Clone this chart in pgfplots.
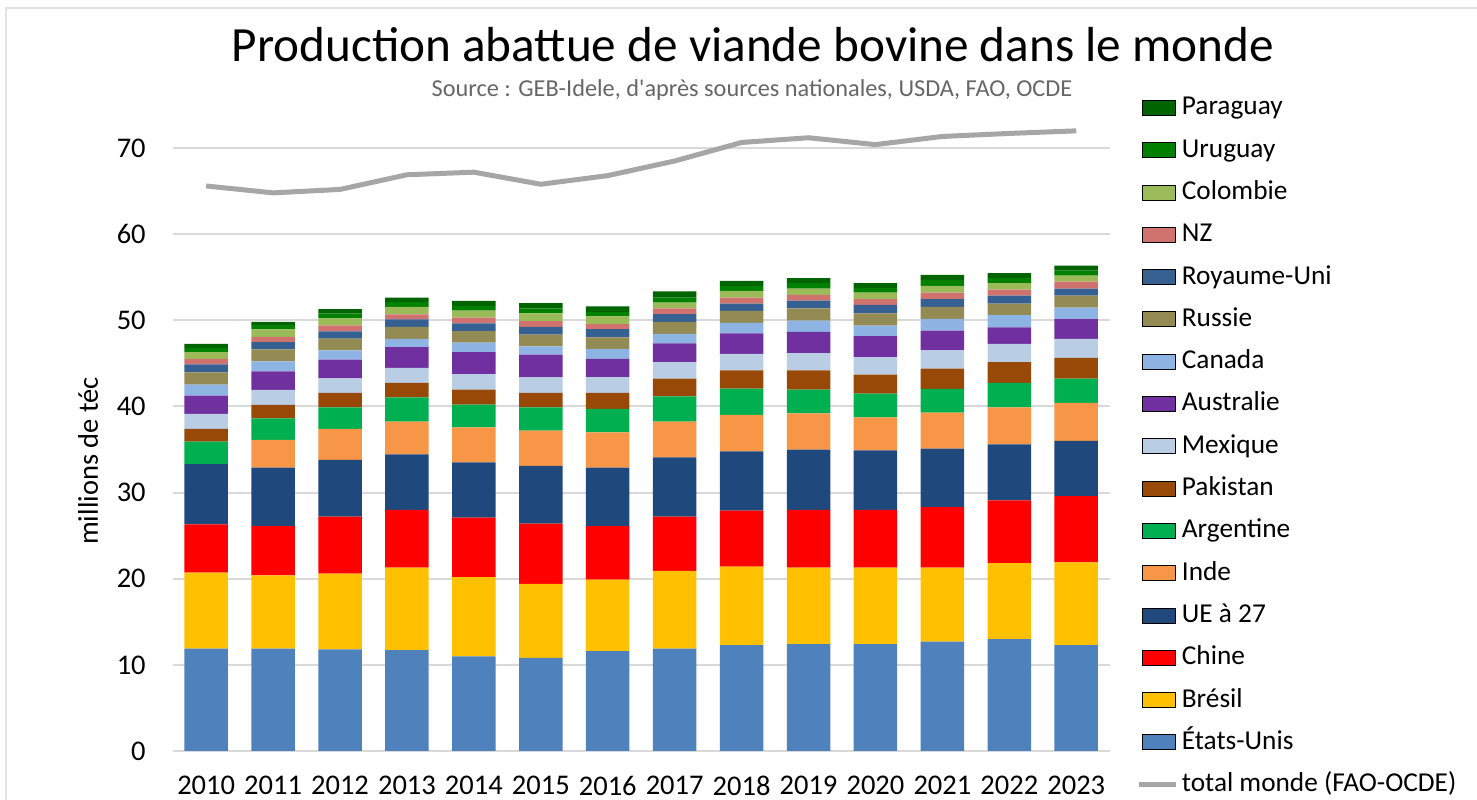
\documentclass[border=0pt]{standalone}
\usepackage{pgfplots}
\usepackage{pgfplotstable}
\usepackage{fontspec}
\setmainfont{Carlito}
\newfontfamily\plainfont{Carlito}[Ligatures=ResetAll]
\pgfplotsset{compat=1.18}
\definecolor{cUS}{HTML}{4F81BD}
\definecolor{cBR}{HTML}{FFC000}
\definecolor{cCH}{HTML}{FF0000}
\definecolor{cUE}{HTML}{1F497D}
\definecolor{cIN}{HTML}{F79646}
\definecolor{cAR}{HTML}{00B050}
\definecolor{cPK}{HTML}{984807}
\definecolor{cMX}{HTML}{B9CDE5}
\definecolor{cAU}{HTML}{7030A0}
\definecolor{cCA}{HTML}{8EB4E3}
\definecolor{cRU}{HTML}{948A54}
\definecolor{cUK}{HTML}{376092}
\definecolor{cNZ}{HTML}{D0736F}
\definecolor{cCO}{HTML}{9BBB59}
\definecolor{cUY}{HTML}{008000}
\definecolor{cPY}{HTML}{006400}
\definecolor{cLine}{HTML}{A6A6A6}
\definecolor{cGrid}{HTML}{D9D9D9}

\pgfplotstableread{
x  US   BR  CH  UE   IN   AR   PK   MX   AU   CA   RU   UK   NZ   CO   UY   PY
0  11.9 8.8 5.6 7.0  0.00 2.63 1.47 1.74 2.12 1.27 1.43 0.92 0.66 0.78 0.48 0.48
1  11.9 8.5 5.7 6.8  3.22 2.51 1.55 1.74 2.15 1.16 1.39 0.86 0.61 0.85 0.51 0.38
2  11.8 8.8 6.6 6.6  3.60 2.50 1.67 1.69 2.17 1.08 1.37 0.85 0.68 0.81 0.58 0.50
3  11.7 9.6 6.7 6.45 3.79 2.82 1.67 1.74 2.43 0.96 1.39 0.85 0.58 0.89 0.54 0.54
4  11.0 9.2 6.9 6.4  4.08 2.63 1.74 1.82 2.55 1.08 1.35 0.89 0.69 0.81 0.55 0.58
5  10.8 8.6 7.0 6.7  4.10 2.70 1.67 1.81 2.63 0.96 1.36 0.92 0.66 0.89 0.58 0.62
6  11.6 8.3 6.2 6.8  4.10 2.71 1.86 1.85 2.12 1.16 1.32 0.96 0.58 0.89 0.50 0.66
7  11.9 9.0 6.3 6.9  4.14 2.94 2.05 1.93 2.16 1.12 1.39 0.89 0.66 0.69 0.58 0.70
8  12.3 9.1 6.5 6.9  4.22 3.05 2.12 1.93 2.36 1.24 1.39 0.84 0.70 0.77 0.58 0.58
9  12.4 8.9 6.7 7.0  4.21 2.74 2.24 2.01 2.47 1.31 1.40 0.92 0.66 0.73 0.63 0.57
10 12.4 8.9 6.7 6.9  3.84 2.75 2.20 2.05 2.43 1.23 1.40 1.00 0.66 0.77 0.51 0.58
11 12.7 8.6 7.0 6.8  4.19 2.74 2.35 2.13 2.31 1.36 1.39 0.89 0.77 0.77 0.70 0.58
12 13.0 8.8 7.3 6.5  4.30 2.83 2.43 2.12 1.89 1.44 1.34 0.93 0.69 0.75 0.57 0.58
13 12.3 9.6 7.7 6.4  4.41 2.82 2.40 2.23 2.28 1.35 1.39 0.81 0.81 0.70 0.58 0.58
}\data

\pgfplotstableread{
x  T
0  65.6
1  64.8
2  65.2
3  66.9
4  67.2
5  65.8
6  66.8
7  68.5
8  70.65
9  71.2
10 70.4
11 71.35
12 71.7
13 72.0
}\total

\pgfplotsset{
  boxleg/.style={legend image code/.code={\fill[##1] (0bp,-3.75bp) rectangle (16.5bp,3.75bp);}},
  lineleg/.style={legend image code/.code={\draw[##1] (-1.5bp,0bp) -- (17bp,0bp);}},
  common/.style={at={(86.35bp,24.5bp)}, anchor=south west, width=468.5bp, height=327.3bp,
    scale only axis, xmin=-0.5, xmax=13.5, ymin=0, ymax=76},
}

\begin{document}
\begin{tikzpicture}
\path[use as bounding box] (0,0) rectangle (738.5bp,400bp);
\draw[gray!22, line width=0.8bp] (3bp,0bp) -- (3bp,396bp) -- (738.5bp,396bp);
\node[anchor=base, font=\fontsize{24.7}{29}\selectfont, inner sep=0pt] at (376.5bp,369bp) {Production abattue de viande bovine dans le monde};
\node[anchor=base, font=\plainfont\fontsize{12.2}{14}\selectfont, text=black!60, inner sep=0pt] at (376bp,351.5bp) {Source : GEB-Idele, d'après sources nationales, USDA, FAO, OCDE};
\node[rotate=90, font=\fontsize{14.3}{17}\selectfont, inner sep=0pt] at (44bp,169.5bp) {millions de téc};

\begin{axis}[common,
  ybar stacked, bar width=0.65,
  axis line style={draw=none}, tick style={draw=none},
  ymajorgrids, major grid style={cGrid, line width=1bp},
  ytick={0,10,...,70},
  xtick={0,...,13},
  xticklabels={2010,2011,2012,2013,2014,2015,2016,2017,2018,2019,2020,2021,2022,2023},
  /pgf/number format/assume math mode=true,
  yticklabel style={font=\fontsize{14.3}{16}\selectfont, xshift=-10bp},
  xticklabel style={font=\fontsize{14.3}{16}\selectfont, yshift=-9.2bp},
  legend cell align=left,
  legend style={at={(1.0286,1.003)}, anchor=north west, draw=none, fill=none,
    inner sep=0pt, font=\fontsize{13.7}{16}\selectfont, row sep=8.15bp,
    nodes={inner xsep=1.5bp, inner ysep=0pt, text height=10bp, text depth=3bp}},
]
\addlegendimage{boxleg, fill=cPY}\addlegendentry{Paraguay}
\addlegendimage{boxleg, fill=cUY}\addlegendentry{Uruguay}
\addlegendimage{boxleg, fill=cCO}\addlegendentry{Colombie}
\addlegendimage{boxleg, fill=cNZ}\addlegendentry{NZ}
\addlegendimage{boxleg, fill=cUK}\addlegendentry{Royaume-Uni}
\addlegendimage{boxleg, fill=cRU}\addlegendentry{Russie}
\addlegendimage{boxleg, fill=cCA}\addlegendentry{Canada}
\addlegendimage{boxleg, fill=cAU}\addlegendentry{Australie}
\addlegendimage{boxleg, fill=cMX}\addlegendentry{Mexique}
\addlegendimage{boxleg, fill=cPK}\addlegendentry{Pakistan}
\addlegendimage{boxleg, fill=cAR}\addlegendentry{Argentine}
\addlegendimage{boxleg, fill=cIN}\addlegendentry{Inde}
\addlegendimage{boxleg, fill=cUE}\addlegendentry{UE à 27}
\addlegendimage{boxleg, fill=cCH}\addlegendentry{Chine}
\addlegendimage{boxleg, fill=cBR}\addlegendentry{Brésil}
\addlegendimage{boxleg, fill=cUS}\addlegendentry{États-Unis}
\addlegendimage{lineleg, cLine, line width=2.5bp}\addlegendentry{total monde (FAO-OCDE)}

\addplot[forget plot, fill=cUS, draw=none] table[x=x,y=US]{\data};
\addplot[forget plot, fill=cBR, draw=none] table[x=x,y=BR]{\data};
\addplot[forget plot, fill=cCH, draw=none] table[x=x,y=CH]{\data};
\addplot[forget plot, fill=cUE, draw=none] table[x=x,y=UE]{\data};
\addplot[forget plot, fill=cIN, draw=none] table[x=x,y=IN]{\data};
\addplot[forget plot, fill=cAR, draw=none] table[x=x,y=AR]{\data};
\addplot[forget plot, fill=cPK, draw=none] table[x=x,y=PK]{\data};
\addplot[forget plot, fill=cMX, draw=none] table[x=x,y=MX]{\data};
\addplot[forget plot, fill=cAU, draw=none] table[x=x,y=AU]{\data};
\addplot[forget plot, fill=cCA, draw=none] table[x=x,y=CA]{\data};
\addplot[forget plot, fill=cRU, draw=none] table[x=x,y=RU]{\data};
\addplot[forget plot, fill=cUK, draw=none] table[x=x,y=UK]{\data};
\addplot[forget plot, fill=cNZ, draw=none] table[x=x,y=NZ]{\data};
\addplot[forget plot, fill=cCO, draw=none] table[x=x,y=CO]{\data};
\addplot[forget plot, fill=cUY, draw=none] table[x=x,y=UY]{\data};
\addplot[forget plot, fill=cPY, draw=none] table[x=x,y=PY]{\data};
\end{axis}

\begin{axis}[common, hide axis]
\addplot[cLine, line width=2.5bp, line join=round] table[x=x,y=T]{\total};
\end{axis}
\end{tikzpicture}
\end{document}
